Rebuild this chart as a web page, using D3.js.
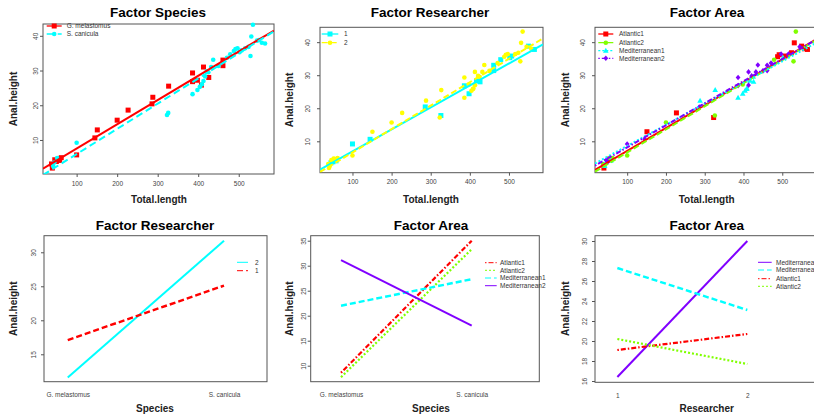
<!DOCTYPE html>
<html><head><meta charset="utf-8">
<script src="https://cdn.jsdelivr.net/npm/d3@7"></script>
<style>
body{margin:0;background:#fff}
svg{display:block;font-family:"Liberation Sans",Arial,sans-serif}
</style></head><body>
<svg id="chart" width="814" height="417"></svg>
<script>
// ---- fish measurements ----
const totalLength = [38,40,46,50,55,58,62,100,145,151,200,227,288,286,327,386,386,398,408,413,426,461,461,
  42,45,52,100,323,326,386,398,404,409,413,417,421,425,432,437,450,471,479,488,492,497,502,507,516,524,529,531,535,545,550,557,565];
const analHeight = [3.1,1.9,4.3,3.8,4.6,4.1,4.9,5.7,10.6,12.9,15.7,18.6,22.3,20.4,25.5,26.8,29.3,27.2,25.8,31.0,28.0,33.0,31.4,
  2.5,3.5,4.8,9.2,17.2,17.8,23.2,24.4,25.3,26.0,27.0,28.3,29.8,29.5,31.0,33.1,31.3,33.7,34.7,35.6,36.2,36.4,35.3,35.8,36.4,36.8,34.2,39.8,43.2,38.6,38.8,38.0,37.8];
const species = [].concat(Array(23).fill("G. melastomus"), Array(33).fill("S. canicula"));
const researcher = ["2","2","2","1","2","1","2","2","1","2","2","2","2","1","2","1","2","2","2","2","1","1","1",
  "2","1","2","1","2","1","2","1","2","2","2","1","2","2","2","2","2","2","1","2","2","2","1","1","2","2","2","2","2","2","1","2","1"];
const area = ["Atlantic2","Atlantic1","Mediterranean2","Mediterranean2","Atlantic1","Mediterranean1","Atlantic2","Atlantic2","Mediterranean2","Atlantic1","Atlantic2","Atlantic1","Mediterranean1","Mediterranean2","Mediterranean1","Mediterranean2","Mediterranean2","Atlantic2","Mediterranean1","Mediterranean2","Mediterranean1","Mediterranean2","Mediterranean2",
  "Mediterranean1","Mediterranean1","Atlantic2","Mediterranean2","Atlantic1","Atlantic2","Mediterranean1","Mediterranean1","Mediterranean1","Mediterranean1","Mediterranean2","Mediterranean1","Mediterranean2","Mediterranean1","Mediterranean2","Mediterranean2","Mediterranean2","Mediterranean2","Atlantic2","Atlantic1","Atlantic1","Mediterranean2","Mediterranean1","Atlantic1","Mediterranean2","Atlantic1","Atlantic2","Atlantic1","Atlantic2","Mediterranean2","Atlantic1","Atlantic1","Atlantic1"];

// ---- factor levels ----
const speciesLevels = ["G. melastomus", "S. canicula"];
const researcherLevels = ["1", "2"];
const areaLevels = ["Atlantic1", "Atlantic2", "Mediterranean1", "Mediterranean2"];

// ---- fitted lines (intercept, slope) per level ----
const speciesIntercept = [0.56, -1.32];
const speciesSlope = [0.0698, 0.0726];
const researcherIntercept = [0.3, -0.48];
const researcherSlope = [0.0665, 0.0709];
const areaIntercept = [0.16, -0.35, 2.2, 1.5];
const areaSlope = [0.0693, 0.0698, 0.064, 0.0668];

// ---- interaction means ----
const researcherBySpeciesLevels = ["2", "1"];
const researcherBySpeciesMeans = [[11.6, 31.7], [17.1, 25.1]];
const areaBySpeciesLevels = ["Atlantic1", "Atlantic2", "Mediterranean1", "Mediterranean2"];
const areaBySpeciesMeans = [[8.6, 35.0], [7.7, 33.3], [22.0, 27.3], [31.1, 18.0]];
const areaByResearcherLevels = ["Mediterranean2", "Mediterranean1", "Atlantic1", "Atlantic2"];
const areaByResearcherMeans = [[16.4, 30.0], [27.3, 23.1], [19.1, 20.7], [20.2, 17.7]];

// ---- axis limits and ticks ----
const lengthLimits = [17, 587];
const heightLimitsSpecies = [0.2, 43.4];
const heightLimitsGroups = [0.5, 44.5];
const lengthTicks = [100, 200, 300, 400, 500];
const heightTicks = [10, 20, 30, 40];
const ticksP4 = [15, 20, 25, 30];
const ticksP5 = [10, 15, 20, 25, 30, 35];
const ticksP6 = [16, 18, 20, 22, 24, 26, 28, 30];

// ---- styles ----
const RED = "#FF0000", GREEN = "#80FF00", CYAN = "#00FFFF", PURPLE = "#8000FF", YELLOW = "#FFFF00";
const BOX = "#555", TICKTXT = "#444";
const DASH = "6,3", DOT = "2,2", DOTDASH = "1.5,2,5,2";

const svg = d3.select("#chart");
const defs = svg.append("defs");
let clipId = 0;

function shape(g, type, x, y, color) {
  if (type === "square") g.append("rect").attr("x", x - 2.5).attr("y", y - 2.5).attr("width", 5).attr("height", 5).attr("fill", color);
  else if (type === "circle") g.append("circle").attr("cx", x).attr("cy", y).attr("r", 2.3).attr("fill", color);
  else if (type === "triangle") g.append("path").attr("d", `M${x},${y - 3}L${x + 2.8},${y + 2}L${x - 2.8},${y + 2}Z`).attr("fill", color);
  else if (type === "diamond") g.append("path").attr("d", `M${x},${y - 2.8}L${x + 2.4},${y}L${x},${y + 2.8}L${x - 2.4},${y}Z`).attr("fill", color);
}

function frame(p, xs, ys) {
  const g = svg.append("g");
  g.append("rect").attr("x", p.x0).attr("y", p.y0).attr("width", p.x1 - p.x0).attr("height", p.y1 - p.y0)
    .attr("fill", "none").attr("stroke", BOX).attr("stroke-width", 1);
  // titles
  g.append("text").attr("x", p.title[0]).attr("y", p.title[1]).attr("text-anchor", "middle")
    .attr("font-size", 13.5).attr("font-weight", "bold").attr("fill", "#000").text(p.titleText);
  g.append("text").attr("x", p.xlab[0]).attr("y", p.xlab[1]).attr("text-anchor", "middle")
    .attr("font-size", 10).attr("font-weight", "bold").attr("fill", "#222").text(p.xlabText);
  g.append("text").attr("transform", `translate(${p.ylab[0]},${p.ylab[1]}) rotate(-90)`).attr("text-anchor", "middle")
    .attr("font-size", 10).attr("font-weight", "bold").attr("fill", "#222").text("Anal.height");
  // x axis
  const xa = d3.axisBottom(xs).tickValues(p.xticks).tickSize(p.xTickSize).tickPadding(p.xPad).tickFormat(p.xFormat || (d => d));
  const gx = g.append("g").attr("transform", `translate(0,${p.y1})`).call(xa);
  gx.select(".domain").remove();
  gx.selectAll("line").attr("stroke", BOX);
  gx.selectAll("text").attr("font-size", 6.5).attr("fill", TICKTXT).attr("font-family", "Liberation Sans, Arial, sans-serif");
  // y axis with labels parallel to the axis
  const ya = d3.axisLeft(ys).tickValues(p.yticks).tickSize(p.yTickSize);
  const gy = g.append("g").attr("transform", `translate(${p.x0},0)`).call(ya);
  gy.select(".domain").remove();
  gy.selectAll("line").attr("stroke", BOX);
  gy.selectAll("text").attr("font-size", 6.5).attr("fill", TICKTXT).attr("font-family", "Liberation Sans, Arial, sans-serif")
    .attr("x", null).attr("dy", null).attr("text-anchor", "middle")
    .attr("transform", `translate(${-p.yLabGap},0) rotate(-90)`);
  return g;
}

function clipFor(p) {
  const id = "clip" + (clipId++);
  defs.append("clipPath").attr("id", id).append("rect")
    .attr("x", p.x0).attr("y", p.y0).attr("width", p.x1 - p.x0).attr("height", p.y1 - p.y0);
  return `url(#${id})`;
}

// ---- scatter panels with fitted lines ----
function scatterPanel(p, groupOf, levels, colors, shapes, dashes, intercepts, slopes, ylim) {
  const xs = d3.scaleLinear().domain(lengthLimits).range([p.x0, p.x1]);
  const ys = d3.scaleLinear().domain(ylim).range([p.y1, p.y0]);
  frame(Object.assign({ xticks: lengthTicks, yticks: heightTicks, xTickSize: 3, xPad: 4, yTickSize: 3 }, p), xs, ys);
  const plot = svg.append("g").attr("clip-path", clipFor({ x0: p.x0, x1: Math.min(p.x1, 814), y0: p.y0 - 4, y1: p.y1 }));
  levels.forEach((lv, i) => {
    totalLength.forEach((len, k) => {
      if (groupOf[k] === lv) shape(plot, shapes[i], xs(len), ys(analHeight[k]), colors[i]);
    });
  });
  const lines = svg.append("g").attr("clip-path", clipFor(p));
  levels.forEach((lv, i) => {
    const f = x => intercepts[i] + slopes[i] * x;
    lines.append("line")
      .attr("x1", xs(lengthLimits[0])).attr("y1", ys(f(lengthLimits[0])))
      .attr("x2", xs(lengthLimits[1])).attr("y2", ys(f(lengthLimits[1])))
      .attr("stroke", colors[i]).attr("stroke-width", 2).attr("stroke-dasharray", dashes[i]);
  });
  // legend
  const lg = svg.append("g");
  levels.forEach((lv, i) => {
    const y = p.legend.rows[i];
    lg.append("line").attr("x1", p.legend.x).attr("x2", p.legend.x + p.legend.len).attr("y1", y).attr("y2", y)
      .attr("stroke", colors[i]).attr("stroke-width", 1.3).attr("stroke-dasharray", dashes[i]);
    shape(lg, shapes[i], p.legend.x + p.legend.len / 2, y, colors[i]);
    lg.append("text").attr("x", p.legend.textX).attr("y", y).attr("dy", "0.35em")
      .attr("font-size", 6.5).attr("fill", "#333").text(lv);
  });
}

scatterPanel({ x0: 43, x1: 274, y0: 24, y1: 174, title: [158, 16.5], titleText: "Factor Species",
  xlab: [159, 203], xlabText: "Total.length", ylab: [17, 99], yLabGap: 5,
  legend: { x: 46.7, len: 15, textX: 66.7, rows: [26, 34] } },
  species, speciesLevels, [RED, CYAN], ["square", "circle"], [null, "7,4"],
  speciesIntercept, speciesSlope, heightLimitsSpecies);

scatterPanel({ x0: 320, x1: 543, y0: 27.3, y1: 172.7, title: [430, 16.5], titleText: "Factor Researcher",
  xlab: [431, 203], xlabText: "Total.length", ylab: [292.7, 100], yLabGap: 10,
  legend: { x: 321.7, len: 16.6, textX: 344, rows: [34, 42.7] } },
  researcher, researcherLevels, [CYAN, YELLOW], ["square", "circle"], [null, DASH],
  researcherIntercept, researcherSlope, heightLimitsGroups);

scatterPanel({ x0: 595, x1: 816, y0: 27.3, y1: 172.7, title: [707, 16.5], titleText: "Factor Area",
  xlab: [706.7, 203], xlabText: "Total.length", ylab: [569.3, 100], yLabGap: 10,
  legend: { x: 598.3, len: 15, textX: 619, rows: [34, 42.7, 50.7, 58.3] } },
  area, areaLevels, [RED, GREEN, CYAN, PURPLE], ["square", "circle", "triangle", "diamond"], [null, DASH, DOT, DOTDASH],
  areaIntercept, areaSlope, heightLimitsGroups);

// ---- interaction panels ----
function interactionPanel(p, xLevels, traceLevels, means, colors, dashes, widths) {
  const xs = d3.scaleLinear().domain(p.xdom).range([p.x0, p.x1]);
  const ys = d3.scaleLinear().domain(p.ydom).range([p.y1, p.y0]);
  frame(Object.assign({ xticks: [1, 2], xTickSize: 0, xPad: 11, yTickSize: 3,
    xFormat: d => xLevels[d - 1] }, p), xs, ys);
  const line = d3.line().x((d, i) => xs(i + 1)).y(d => ys(d));
  const g = svg.append("g");
  traceLevels.forEach((lv, i) => {
    g.append("path").attr("d", line(means[i])).attr("fill", "none")
      .attr("stroke", colors[i]).attr("stroke-width", widths[i]).attr("stroke-dasharray", dashes[i]);
  });
  const lg = svg.append("g");
  traceLevels.forEach((lv, i) => {
    const y = p.legend.rows[i];
    lg.append("line").attr("x1", p.legend.x).attr("x2", p.legend.x2).attr("y1", y).attr("y2", y)
      .attr("stroke", colors[i]).attr("stroke-width", 1).attr("stroke-dasharray", dashes[i]);
    lg.append("text").attr("x", p.legend.textX).attr("y", y).attr("dy", "0.35em")
      .attr("font-size", 6.5).attr("fill", "#333").text(lv);
  });
}

interactionPanel({ x0: 44, x1: 267, y0: 235.7, y1: 381.7, xdom: [0.848, 2.275], ydom: [10.97, 32.44],
  title: [155, 230], titleText: "Factor Researcher", xlab: [155, 411.5], xlabText: "Species",
  ylab: [16.7, 308.7], yticks: ticksP4, yLabGap: 8,
  legend: { x: 237, x2: 248, textX: 255, rows: [262.3, 270.7] } },
  speciesLevels, researcherBySpeciesLevels, researcherBySpeciesMeans, [CYAN, RED], [null, DASH], [2, 2.4]);

interactionPanel({ x0: 310.7, x1: 539.3, y0: 235.7, y1: 381.7, xdom: [0.768, 2.517], ydom: [6.8, 36],
  title: [431, 230], titleText: "Factor Area", xlab: [431, 411.5], xlabText: "Species",
  ylab: [292.7, 308.7], yticks: ticksP5, yLabGap: 5,
  legend: { x: 485, x2: 496.7, textX: 500, rows: [262.7, 270.3, 278, 285.7] } },
  speciesLevels, areaBySpeciesLevels, areaBySpeciesMeans, [RED, GREEN, CYAN, PURPLE], [DOTDASH, DOT, DASH, null], [2.2, 2.2, 2.4, 2]);

interactionPanel({ x0: 595, x1: 823.6, y0: 235.7, y1: 382.3, xdom: [0.828, 2.587], ydom: [15.87, 30.53],
  title: [706.7, 230], titleText: "Factor Area", xlab: [706.7, 411.5], xlabText: "Researcher",
  ylab: [569.3, 308.7], yticks: ticksP6, yLabGap: 8,
  legend: { x: 758, x2: 771.7, textX: 776, rows: [262.3, 270, 278.7, 286.3] } },
  researcherLevels, areaByResearcherLevels, areaByResearcherMeans, [PURPLE, CYAN, RED, GREEN], [null, DASH, DOTDASH, DOT], [2, 2.4, 2.2, 2.2]);
</script>
</body></html>
